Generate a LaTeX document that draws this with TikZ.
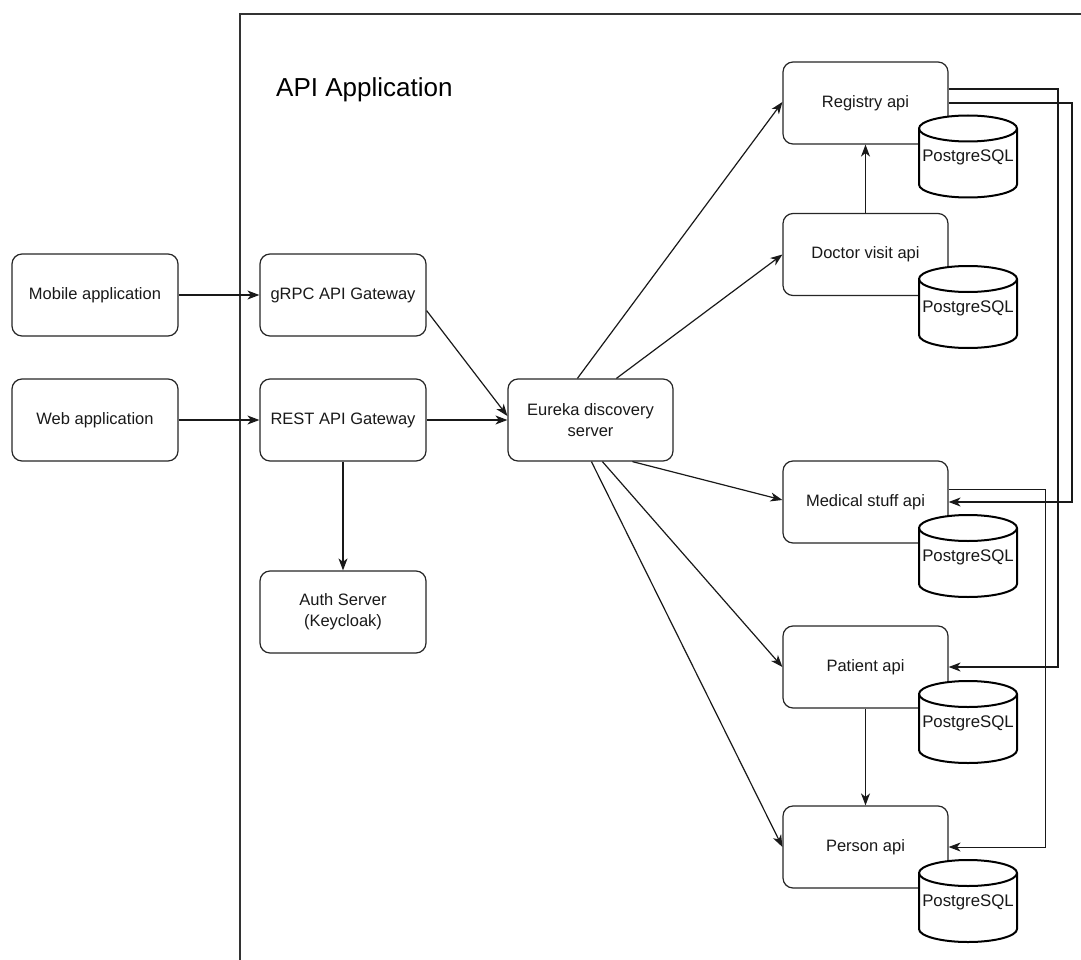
\documentclass[tikz,border=0pt]{standalone}
\usepackage{fontspec}
\setmainfont{Liberation Sans}
\usetikzlibrary{arrows.meta,calc}
\begin{document}
\begin{tikzpicture}[x=1pt,y=-1pt,
  box/.style={draw=black!85,line width=1.2pt,rounded corners=10pt,fill=white,
    minimum width=166pt,minimum height=82pt,inner sep=2pt,align=center,
    font=\fontsize{16.5}{21}\selectfont,text=black!90},
  arr/.style={draw=black!90,line width=1.2pt,-{Stealth[length=12pt,width=9pt,inset=3.5pt]}},
  thinarr/.style={draw=black!90,line width=0.8pt,-{Stealth[length=12pt,width=9pt,inset=3.5pt]}},
  cyl/.style={draw=black,line width=2pt,fill=white},
  dblabel/.style={font=\fontsize{16.8}{19}\selectfont,text=black!90,inner sep=0pt}]
\useasboundingbox (0,0) rectangle (1081,960);
% frame
\draw[draw=black!80,line width=1.2pt] (240,960) -- (240,14) -- (1081,14);
\node[anchor=west,font=\fontsize{26}{30}\selectfont,text=black,inner sep=0pt] (title) at (276,90) {API Application};
% boxes
\node[box] (mob) at (95,295) {Mobile application};
\node[box] (web) at (95,420) {Web application};
\node[box] (grpc) at (343,295) {gRPC API Gateway};
\node[box] (rest) at (343,420) {REST API Gateway};
\node[box] (auth) at (343,612) {Auth Server\\(Keycloak)};
\node[box,minimum width=165pt] (eur) at (590.5,420) {Eureka discovery\\server};
\node[box,minimum width=165pt] (reg) at (865.5,103) {Registry api};
\node[box,minimum width=165pt] (doc) at (865.5,254.5) {Doctor visit api};
\node[box,minimum width=165pt] (med) at (865.5,502) {Medical stuff api};
\node[box,minimum width=165pt] (pat) at (865.5,667) {Patient api};
\node[box,minimum width=165pt] (per) at (865.5,847) {Person api};
% cylinders
\foreach \nm/\cy in {reg/156.5,doc/307,med/556,pat/722,per/901}{
  \draw[cyl] (919,\cy-28) -- (919,\cy+28)
     arc[start angle=180,end angle=360,x radius=49pt,y radius=13pt]
     -- (1017,\cy-28)
     arc[start angle=0,end angle=180,x radius=49pt,y radius=13pt] -- cycle;
  \draw[draw=black,line width=2pt] (919,\cy-28) arc[start angle=180,end angle=360,x radius=49pt,y radius=13pt];
  \node[dblabel] (db\nm) at (968,\cy+1) {PostgreSQL};
}
% connectors
\draw[arr] (mob) -- (grpc);
\draw[arr] (web) -- (rest);
\draw[arr] (rest) -- (eur);
\draw[arr] ($(grpc.south east)+(0,-26)$) -- ($(eur.west)+(0,-4)$);
\draw[arr] (rest) -- (auth);
\draw[arr] ($(eur.north west)+(70,0)$) -- ($(reg.west)+(0,-1)$);
\draw[arr] ($(eur.north west)+(109,0)$) -- (doc.west);
\draw[arr] ($(eur.south west)+(125,0)$) -- ($(med.west)+(0,-2)$);
\draw[arr] ($(eur.south west)+(95,0)$) -- (pat.west);
\draw[arr] ($(eur.south west)+(84,0)$) -- (per.west);
\draw[arr] (doc.north) -- (reg.south);
\draw[arr] (pat.south) -- (per.north);
\coordinate (r1) at (1058,89);
\coordinate (r2) at (1072,103);
\coordinate (r3) at (1045,489);
\draw[arr] ($(reg.east)+(0,-14)$) -- (r1) |- (pat.east);
\draw[arr] (reg.east) -- (r2) |- (med.east);
\draw[thinarr] ($(med.east)+(0,-13)$) -- (r3) |- (per.east);
\end{tikzpicture}
\end{document}
